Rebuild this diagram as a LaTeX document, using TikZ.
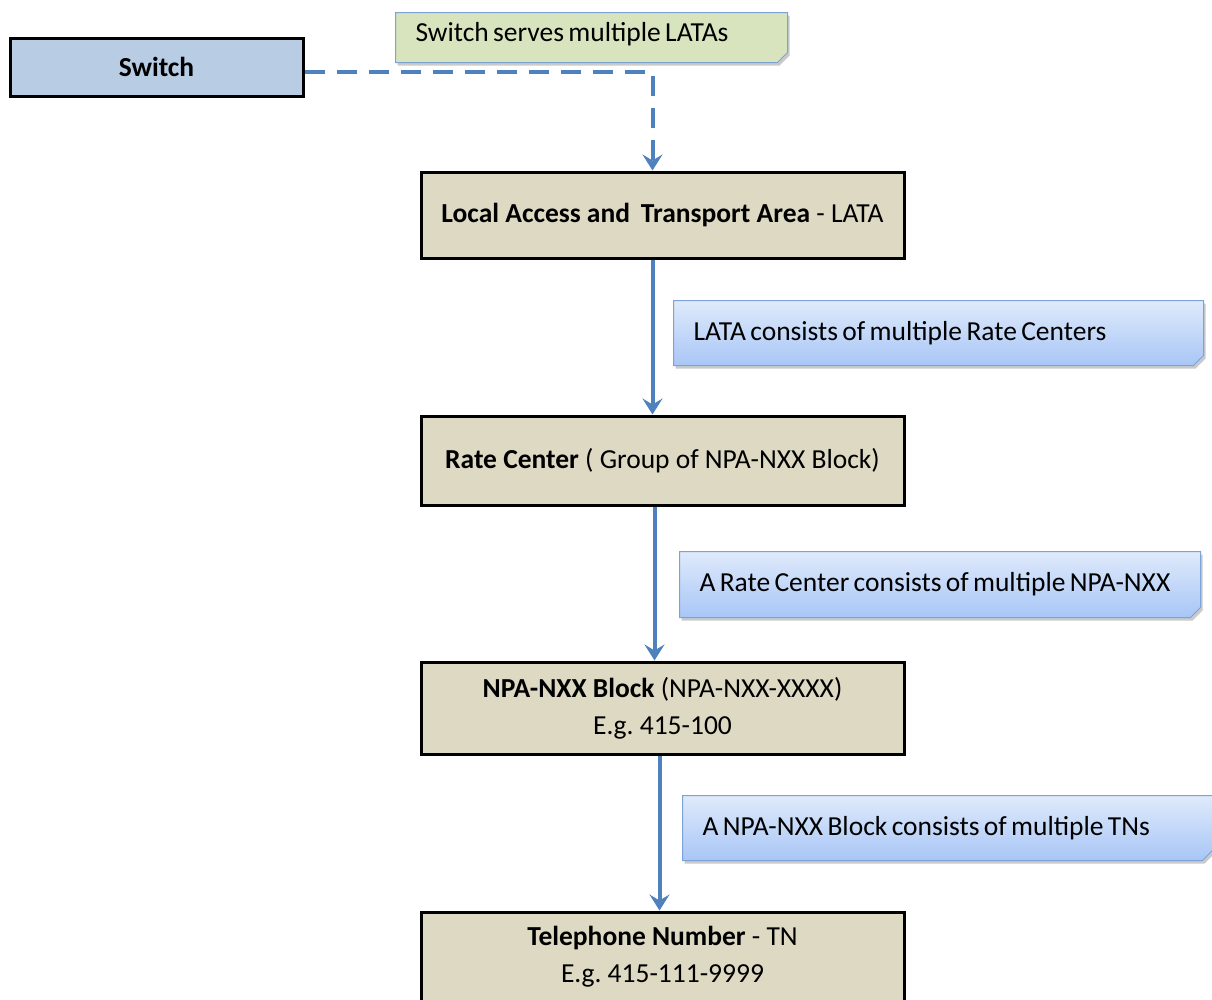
\documentclass[tikz,border=0pt]{standalone}
\usepackage{fontspec}
\setmainfont{Carlito}
\newfontfamily\notefont[WordSpace=0.7]{Carlito}
\usetikzlibrary{arrows.meta,positioning,shapes.misc,shadows}
\definecolor{boxtan}{HTML}{DDD9C3}
\definecolor{boxblue}{HTML}{B8CCE4}
\definecolor{notegreen}{HTML}{D7E4BD}
\definecolor{linkblue}{HTML}{4F81BD}
\definecolor{notetop}{HTML}{DFEAFB}
\definecolor{notebot}{HTML}{A8C6F6}
\definecolor{noteedge}{HTML}{7DA2D6}

\begin{document}
\begin{tikzpicture}[x=1pt,y=-1pt,>=Latex,
  box/.style={draw=black,line width=3pt,fill=boxtan,minimum width=483pt,align=center,font=\fontsize{27.5}{37}\selectfont},
  note/.style={chamfered rectangle,chamfered rectangle corners=south east,chamfered rectangle xsep=5pt,chamfered rectangle ysep=5pt,
    draw=noteedge,line width=1pt,anchor=north west,align=flush left,inner xsep=15pt,font=\notefont\fontsize{27.5}{30}\selectfont,
    drop shadow={shadow xshift=2pt,shadow yshift=-3pt,opacity=0.35,fill=black!60}},
  link/.style={draw=linkblue,line width=4pt,-{Stealth[length=16pt,width=20pt,inset=6pt]}}]
  \useasboundingbox (0,0) rectangle (1212,999);
  \node[box,fill=boxblue,minimum width=293pt,minimum height=58pt] (switch) at (156.5,67) {\textbf{Switch}};
  \node[box,minimum height=86pt] (lata) at (662.5,215) {\textbf{Local Access and\, Transport Area} - LATA};
  \node[box,minimum height=89pt] (rate) at (662.5,460.5) {\textbf{Rate Center} ( Group of NPA-NXX Block)};
  \node[box,minimum height=92pt] (npa) at (662.5,708) {\textbf{NPA-NXX Block} (NPA-NXX-XXXX)\\E.g.\ 415-100};
  \node[box,minimum height=90pt] (tn) at (662.5,957) {\textbf{Telephone Number} - TN\\E.g.\ 415-111-9999};
  % notes
  \node[note,fill=notegreen,text width=352pt,minimum height=50pt,text depth=12pt] (serves) at (395,12) {Switch serves multiple LATAs};
  \node[note,top color=notetop,bottom color=notebot,text width=490pt,minimum height=65pt] (consists1) at (673,300) {LATA consists of multiple Rate Centers};
  \node[note,top color=notetop,bottom color=notebot,text width=481pt,minimum height=66pt] (consists2) at (679,551) {A Rate Center consists of multiple NPA-NXX};
  \node[note,top color=notetop,bottom color=notebot,text width=490pt,minimum height=65pt] (consists3) at (682,795) {A NPA-NXX Block consists of multiple TNs};
  % links
  \draw[link,dash pattern=on 20pt off 12pt] ([yshift=-5pt]switch.east) -| ([xshift=-10pt]lata.north);
  \draw[link] ([xshift=-10pt]lata.south) -- ([xshift=-10pt]rate.north);
  \draw[link] ([xshift=-8pt]rate.south) -- ([xshift=-8pt]npa.north);
  \draw[link] ([xshift=-3pt]npa.south) -- ([xshift=-3pt]tn.north);
\end{tikzpicture}
\end{document}
